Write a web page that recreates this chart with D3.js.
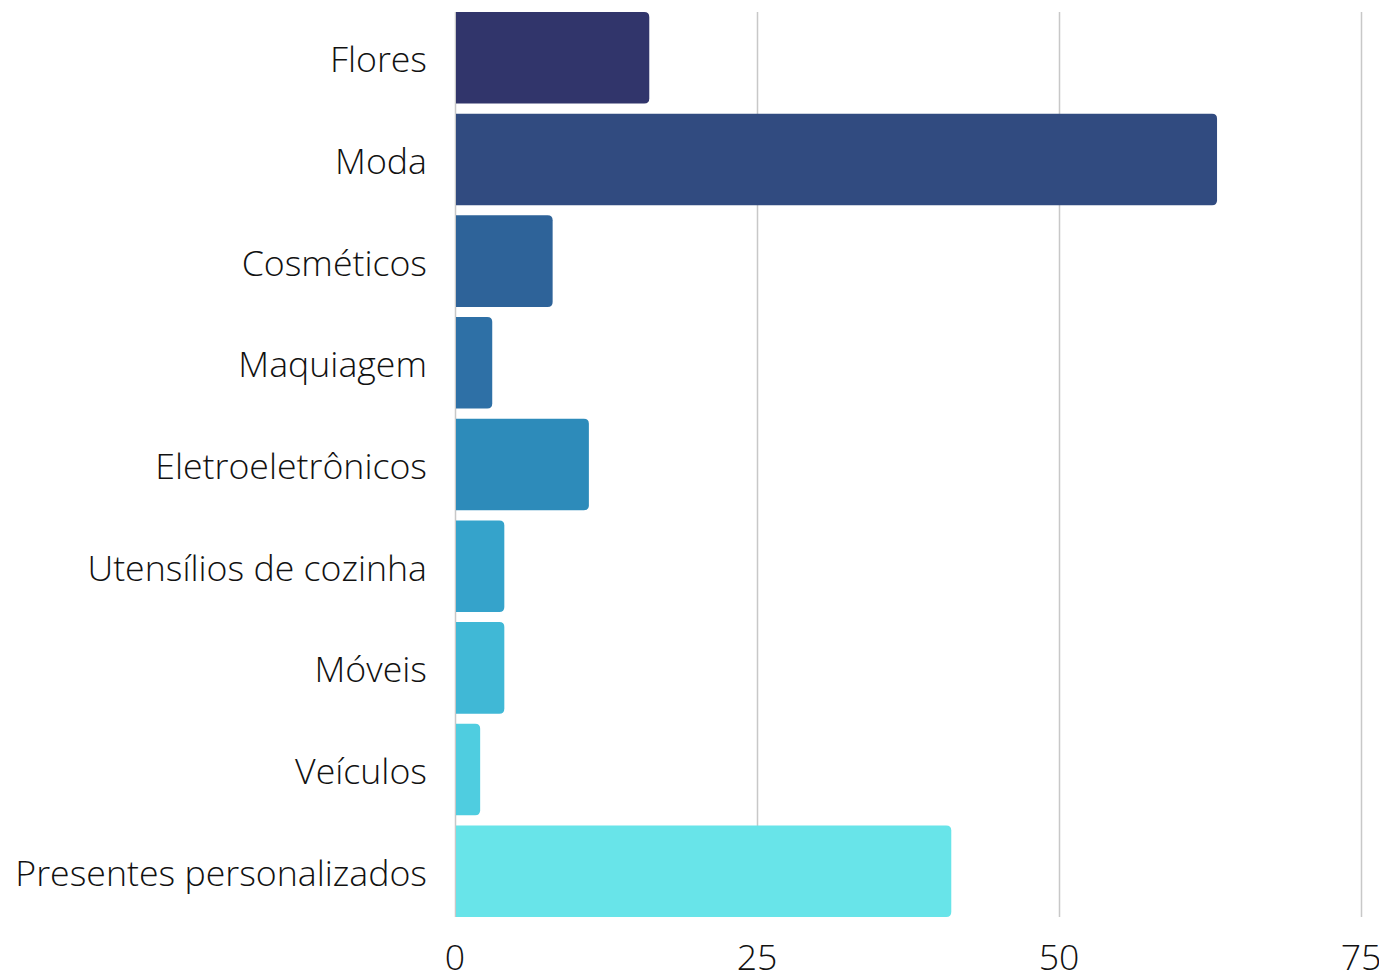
<!DOCTYPE html>
<html>
<head>
<meta charset="utf-8">
<script src="https://cdn.jsdelivr.net/npm/d3@7"></script>
<style>
  html, body { margin: 0; padding: 0; background: #fff; }
  svg { display: block; }
  text { font-family: "Open Sans", sans-serif; font-weight: 300; fill: #111; }
</style>
</head>
<body>
<svg id="chart" width="1379" height="974"></svg>
<script>
const categories = ["Flores", "Moda", "Cosméticos", "Maquiagem", "Eletroeletrônicos", "Utensílios de cozinha", "Móveis", "Veículos", "Presentes personalizados"];
const values = [16, 63, 8, 3, 11, 4, 4, 2, 41];
const colors = ["#31356b", "#314b80", "#2e6399", "#2e70a6", "#2d8bba", "#35a3cb", "#40b8d6", "#4fcde0", "#68e4e9"];
const xTicks = [0, 25, 50, 75];

const svg = d3.select("#chart");
const mLeft = 455, mRight = 1361, mTop = 12, mBottom = 917;

const x = d3.scaleLinear().domain([0, 75]).range([mLeft, mRight]);
const y = d3.scaleBand().domain(categories).range([mTop, mBottom]).paddingInner(0.1).paddingOuter(0);

// gridlines
svg.append("g").selectAll("line").data(xTicks.filter(t => t > 0)).join("line")
  .attr("x1", d => x(d) + 0.5).attr("x2", d => x(d) + 0.5)
  .attr("y1", mTop).attr("y2", mBottom)
  .attr("stroke", "#c8c8c8").attr("stroke-width", 1.5);

// axis line
svg.append("line")
  .attr("x1", mLeft + 0.5).attr("x2", mLeft + 0.5)
  .attr("y1", mTop).attr("y2", mBottom)
  .attr("stroke", "#c8c8c8").attr("stroke-width", 1.5);

// bars with rounded right corners
const r = 5;
function barPath(d, i) {
  const x0 = x(0) + 1, x1 = x(d) + 1, y0 = y(categories[i]), h = y.bandwidth();
  const rr = Math.min(r, (x1 - x0) / 2);
  return `M${x0},${y0}H${x1 - rr}Q${x1},${y0} ${x1},${y0 + rr}V${y0 + h - rr}Q${x1},${y0 + h} ${x1 - rr},${y0 + h}H${x0}Z`;
}
svg.append("g").selectAll("path").data(values).join("path")
  .attr("d", (d, i) => barPath(d, i))
  .attr("fill", (d, i) => colors[i]);

// category labels
svg.append("g").selectAll("text").data(categories).join("text")
  .attr("x", 427)
  .attr("y", d => y(d) + y.bandwidth() / 2 + 5)
  .attr("text-anchor", "end")
  .attr("dominant-baseline", "middle")
  .attr("font-size", 35.7)
  .text(d => d);

// x tick labels
svg.append("g").selectAll("text").data(xTicks).join("text")
  .attr("x", d => x(d))
  .attr("y", 970)
  .attr("text-anchor", "middle")
  .attr("font-size", 35.7)
  .text(d => d);
</script>
</body>
</html>
